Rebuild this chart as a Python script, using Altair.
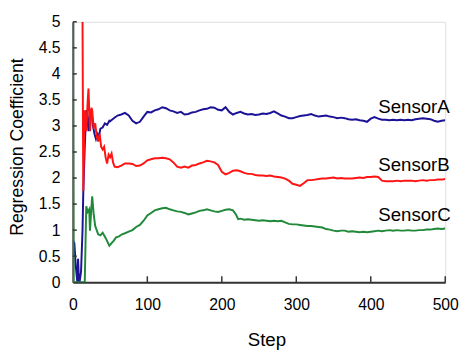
import altair as alt
import pandas as pd

# SensorA (blue)
a_steps = [0, 2, 4, 6, 7, 8, 9, 11, 13, 14, 16, 18, 19, 21, 23, 25, 27, 29, 31, 33, 35, 37, 40, 43, 46, 49,
           50, 55, 60, 65, 70, 75, 80, 85, 90, 95, 100, 105, 110, 115, 120, 125, 130, 135, 140, 145, 150,
           155, 160, 165, 170, 175, 180, 185, 190, 195, 200, 205, 210, 215, 220, 225, 230, 235, 240, 245,
           250, 255, 260, 265, 270, 275, 280, 285, 290, 295, 300, 305, 310, 315, 320, 325, 330, 335, 340,
           345, 350, 355, 360, 365, 370, 375, 380, 385, 390, 395, 400, 405, 410, 415, 420, 425, 430, 435,
           440, 445, 450, 455, 460, 465, 470, 475, 480, 485, 490, 495, 500]
a_vals = [0.80, 0.75, 0.30, 0.00, 0.45, 0.10, 0.00, 0.20, 1.00, 1.72, 2.60, 3.30, 3.25, 2.90, 3.30, 3.28,
          3.00, 2.85, 2.75, 2.85, 2.80, 2.95, 2.97, 3.05, 3.02, 3.10,
          3.09, 3.15, 3.20, 3.22, 3.25, 3.20, 3.10, 3.05, 3.08, 3.18, 3.27, 3.26, 3.30, 3.32, 3.36, 3.34,
          3.30, 3.28, 3.25, 3.27, 3.22, 3.23, 3.26, 3.27, 3.30, 3.32, 3.33, 3.36, 3.35, 3.31, 3.30, 3.36,
          3.27, 3.22, 3.25, 3.27, 3.24, 3.22, 3.23, 3.21, 3.22, 3.24, 3.23, 3.25, 3.28, 3.24, 3.20, 3.18,
          3.15, 3.15, 3.17, 3.19, 3.20, 3.21, 3.23, 3.20, 3.18, 3.19, 3.20, 3.18, 3.17, 3.15, 3.16, 3.15,
          3.13, 3.12, 3.13, 3.11, 3.10, 3.08, 3.14, 3.17, 3.14, 3.12, 3.12, 3.11, 3.12, 3.11, 3.12, 3.11,
          3.12, 3.11, 3.13, 3.14, 3.15, 3.14, 3.13, 3.10, 3.08, 3.10, 3.11]

# SensorB (red)
b_steps = [13, 14, 16, 18, 20, 21, 22, 23, 25, 26, 28, 30, 32, 34, 36, 38, 40, 42, 44, 46, 48, 50, 52, 54,
           56, 60, 65, 70, 75, 80, 85, 90, 95, 100, 105, 110, 115, 120, 125, 130, 135, 140, 145, 150, 155,
           160, 165, 170, 175, 180, 185, 190, 195, 200, 205, 210, 215, 220, 225, 230, 235, 240, 245, 250,
           255, 260, 265, 270, 275, 280, 285, 290, 295, 300, 305, 310, 315, 320, 325, 330, 335, 340, 345,
           350, 355, 360, 365, 370, 375, 380, 385, 390, 395, 400, 405, 410, 415, 420, 425, 430, 435, 440,
           445, 450, 455, 460, 465, 470, 475, 480, 485, 490, 495, 500]
b_vals = [5.00, 1.75, 3.30, 2.90, 3.50, 3.72, 3.30, 2.90, 3.35, 3.30, 2.95, 3.05, 2.80, 2.70, 2.85, 2.60,
          2.55, 2.60, 2.40, 2.28, 2.45, 2.40, 2.47, 2.30, 2.22, 2.21, 2.24, 2.28, 2.28, 2.27, 2.23, 2.24,
          2.28, 2.34, 2.36, 2.38, 2.38, 2.39, 2.38, 2.36, 2.30, 2.22, 2.20, 2.22, 2.20, 2.24, 2.25, 2.28,
          2.30, 2.33, 2.32, 2.30, 2.25, 2.12, 2.07, 2.10, 2.14, 2.15, 2.13, 2.10, 2.08, 2.08, 2.06, 2.05,
          2.05, 2.04, 2.05, 2.03, 2.02, 2.01, 1.99, 1.95, 1.89, 1.87, 1.85, 1.90, 1.96, 1.96, 1.97, 1.98,
          1.99, 1.99, 2.00, 2.01, 1.99, 2.00, 1.99, 1.99, 1.99, 2.00, 2.01, 2.00, 2.02, 2.02, 2.03, 2.02,
          1.95, 1.94, 1.94, 1.94, 1.95, 1.94, 1.95, 1.95, 1.95, 1.94, 1.95, 1.96, 1.95, 1.96, 1.96, 1.97,
          1.97, 1.98]

# SensorC (green)
c_steps = [0, 1, 15, 16, 18, 20, 22, 23, 25, 26, 28, 30, 34, 37, 40, 44, 49, 52, 55, 58, 62, 66, 70, 75,
           80, 85, 90, 95, 100, 105, 110, 115, 120, 125, 130, 135, 140, 145, 150, 155, 160, 165, 170, 175,
           180, 185, 190, 195, 200, 205, 210, 215, 219, 222, 225, 230, 235, 240, 245, 250, 255, 260, 265,
           270, 275, 280, 285, 290, 295, 300, 305, 310, 315, 320, 325, 330, 335, 340, 345, 350, 355, 360,
           365, 370, 375, 380, 385, 390, 395, 400, 405, 410, 415, 420, 425, 430, 435, 440, 445, 450, 455,
           460, 465, 470, 475, 480, 485, 490, 495, 500]
c_vals = [5.00, 0.00, 0.00, 0.00, 1.46, 1.35, 1.40, 0.99, 1.45, 1.65, 1.30, 1.08, 0.92, 0.90, 0.95, 0.85,
          0.70, 0.75, 0.80, 0.86, 0.88, 0.92, 0.94, 0.97, 1.00, 1.06, 1.10, 1.18, 1.28, 1.33, 1.38, 1.40,
          1.42, 1.43, 1.40, 1.38, 1.36, 1.35, 1.33, 1.30, 1.32, 1.34, 1.37, 1.38, 1.40, 1.38, 1.36, 1.35,
          1.37, 1.39, 1.40, 1.38, 1.30, 1.21, 1.22, 1.20, 1.21, 1.20, 1.19, 1.18, 1.19, 1.18, 1.17, 1.18,
          1.17, 1.18, 1.15, 1.12, 1.11, 1.11, 1.10, 1.09, 1.08, 1.08, 1.07, 1.06, 1.05, 1.02, 1.01, 0.99,
          0.98, 0.99, 0.99, 0.97, 0.98, 0.97, 0.96, 0.97, 0.96, 0.97, 0.98, 0.99, 0.98, 0.99, 1.00, 0.99,
          1.00, 0.99, 0.99, 1.00, 0.99, 0.99, 1.00, 1.00, 1.01, 1.01, 1.02, 1.03, 1.02, 1.03]

labels = ["SensorA", "SensorB", "SensorC"]
label_x = [410, 410, 410]
label_y = [3.25, 2.14, 1.18]
colors = ["#1c1296", "#ff1414", "#20893a"]

x_ticks = [100, 200, 300, 400, 500]
y_ticks = [0.5, 1, 1.5, 2, 2.5, 3, 3.5, 4, 4.5, 5]
x_labels = [0, 100, 200, 300, 400, 500]
y_labels = [0, 0.5, 1, 1.5, 2, 2.5, 3, 3.5, 4, 4.5, 5]

rows = []
for name, st, vs in zip(labels, [a_steps, b_steps, c_steps], [a_vals, b_vals, c_vals]):
    for s, v in zip(st, vs):
        rows.append({"Step": s, "Value": v, "Sensor": name})
df = pd.DataFrame(rows)

FONT = "Liberation Sans"
xs = alt.Scale(domain=[0, 500], nice=False)
ys = alt.Scale(domain=[0, 5], nice=False)
cs = alt.Scale(domain=labels, range=colors)

x_axis = alt.Axis(
    values=x_labels, title="Step", ticks=False, tickSize=0, labelOverlap=False, format="d",
    labelPadding=15, labelFontSize=16, labelFont=FONT, labelColor="#000",
    titleFont=FONT, titleFontSize=19, titleFontWeight="normal", titleColor="#000",
    titleX=197, titleY=64, titleBaseline="alphabetic", titleAlign="center",
    domainColor="#333", domainWidth=2, grid=False, labelFlush=False)
y_axis = alt.Axis(
    values=y_labels, title="Regression Coefficient", labelOverlap=False, format="~g",
    ticks=False, tickSize=0, labelPadding=13, labelFontSize=16, labelFont=FONT, labelColor="#000",
    titleFont=FONT, titleFontSize=18, titleFontWeight="normal", titleColor="#000",
    titleX=-51, titleY=127, titleAngle=-90, titleBaseline="alphabetic", titleAlign="center",
    domainColor="#333", domainWidth=2, grid=False, labelFlush=False)

lines = alt.Chart(df).mark_line(strokeWidth=2, clip=True).encode(
    x=alt.X("Step:Q", scale=xs, axis=x_axis),
    y=alt.Y("Value:Q", scale=ys, axis=y_axis),
    color=alt.Color("Sensor:N", scale=cs, legend=None),
    detail="Sensor:N",
)

tdf = pd.DataFrame({"Sensor": labels, "Step": label_x, "Value": label_y})
texts = alt.Chart(tdf).mark_text(align="left", baseline="alphabetic", font=FONT, fontSize=19,
                                 color="#000").encode(
    x=alt.X("Step:Q", scale=xs, axis=x_axis), y=alt.Y("Value:Q", scale=ys, axis=y_axis),
    text="Sensor:N")

xt = alt.Chart(pd.DataFrame({"Step": x_ticks})).mark_rule(color="#333", strokeWidth=1.5).encode(
    x=alt.X("Step:Q", scale=xs, axis=x_axis), y=alt.value(259), y2=alt.value(265))
yt = alt.Chart(pd.DataFrame({"Value": y_ticks})).mark_rule(color="#333", strokeWidth=1.5).encode(
    y=alt.Y("Value:Q", scale=ys, axis=y_axis), x=alt.value(0), x2=alt.value(4))

chart = alt.layer(lines, xt, yt, texts).properties(
    width=379, height=265,
    autosize=alt.AutoSizeParams(type="none"),
    padding={"left": 66, "top": 11, "right": 14, "bottom": 69},
).configure_view(stroke=None).configure(background="white")

chart.save("out.html", embed_options={"renderer": "svg", "actions": False})
